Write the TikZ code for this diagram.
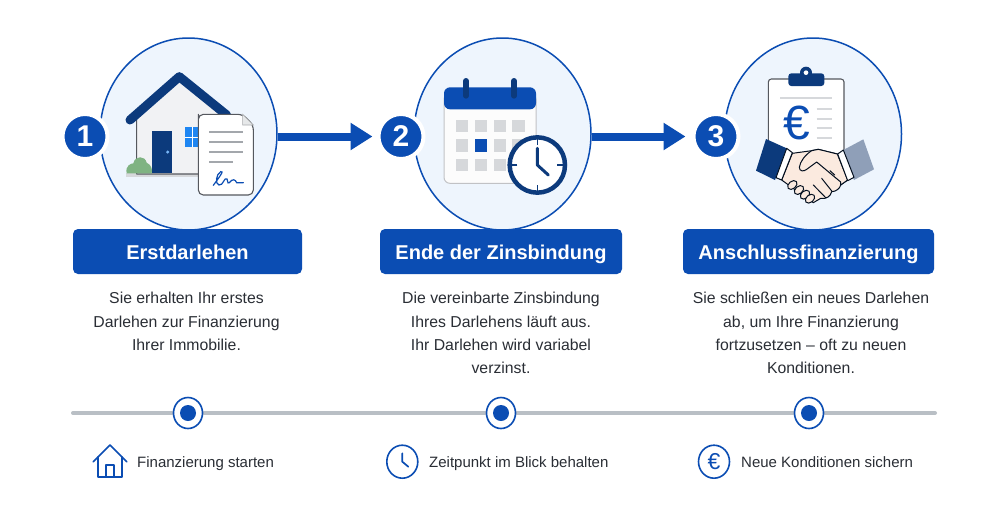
\documentclass[tikz,border=0pt]{standalone}
\usepackage{fontspec}
\setmainfont{Liberation Sans}
\usetikzlibrary{arrows.meta,shapes.geometric}
\definecolor{mainblue}{HTML}{0B4DB3}
\definecolor{darkblue}{HTML}{0C3A7C}
\definecolor{paleblue}{HTML}{EEF5FD}
\definecolor{softgray}{HTML}{D6D8DB}
\definecolor{midgray}{HTML}{A3A7AC}
\definecolor{edgegray}{HTML}{55585E}
\definecolor{railgray}{HTML}{B9BFC5}
\definecolor{skin}{HTML}{FBEADF}
\definecolor{inktext}{HTML}{2A2E35}
\definecolor{bushgreen}{HTML}{7FB382}
\definecolor{windowblue}{HTML}{1E86F2}
\definecolor{cuffgray}{HTML}{8F9FB8}
\definecolor{wallgray}{HTML}{F1F2F4}
\tikzset{
  stepcircle/.style={ellipse,draw=mainblue,fill=paleblue,line width=1.5pt,inner sep=0pt,minimum width=177pt,minimum height=192pt},
  badge/.style={circle,fill=mainblue,draw=white,line width=4pt,inner sep=0pt,minimum size=45pt,text=white,font=\fontsize{30}{30}\selectfont\bfseries},
  titlebox/.style={rectangle,rounded corners=5pt,fill=mainblue,text=white,inner sep=0pt,minimum height=45pt,text height=16pt,text depth=1pt,font=\fontsize{20}{24}\selectfont\bfseries},
  bodytext/.style={align=center,anchor=north,text=inktext,inner sep=0pt,font=\fontsize{15.8}{23.4}\selectfont},
  flowarrow/.style={draw=mainblue,line width=8pt,-{Triangle[length=22pt,width=26pt]},shorten >=4pt},
  rail/.style={draw=railgray,line width=4pt,line cap=round},
  railring/.style={ellipse,draw=mainblue,fill=white,line width=1.6pt,inner sep=0pt,minimum width=29pt,minimum height=31pt},
  raildot/.style={circle,fill=mainblue,inner sep=0pt,minimum size=16pt},
  minilabel/.style={anchor=base west,text=inktext,inner sep=0pt,font=\fontsize{15}{17}\selectfont},
  miniicon/.style={ellipse,draw=mainblue,line width=1.6pt,inner sep=0pt,minimum width=31pt,minimum height=33pt},
  miniline/.style={draw=mainblue,line width=1.7pt,line join=round,line cap=round},
  outline/.style={draw=edgegray,line width=1.1pt,line join=round},
  textline/.style={draw=midgray,line width=2pt},
  handline/.style={draw=black!75!darkblue,line width=1pt,line join=round,fill=skin},
}
\begin{document}
\begin{tikzpicture}[x=1pt,y=-1pt]
\path[use as bounding box,fill=white] (0,0) rectangle (1000,520);

% big circles
\node[stepcircle] (circleA) at (188.5,134) {};
\node[stepcircle] (circleB) at (502.5,134) {};
\node[stepcircle] (circleC) at (813,134) {};

% number badges
\node[badge] (badgeA) at (85,136.5) {1};
\node[badge] (badgeB) at (401,136.5) {2};
\node[badge] (badgeC) at (716,136.5) {3};

% arrows
\draw[flowarrow] (circleA.east |- badgeB.west) -- (badgeB.west);
\draw[flowarrow,shorten >=6pt] (circleB.east |- badgeC.west) -- (badgeC.west);

% house with contract
\begin{scope}[shift={(50,30)},x=1/3*1pt,y=-1/3*1pt]
  \fill[softgray] (228,430) rectangle (445,441);
  \draw[outline,fill=wallgray] (260,432) -- (260,250) -- (388,150) -- (516,250) -- (516,432) -- cycle;
  \draw[darkblue,line width=9pt,line cap=round,line join=round] (240,270) -- (388,140) -- (530,255);
  \fill[darkblue] (305,302) rectangle (365,428);
  \fill[windowblue!60!white] (353,366) circle (5);
  \fill[windowblue] (405,292) rectangle (450,352);
  \draw[white,line width=1.4pt] (427,292) -- (427,352) (405,322) -- (450,322);
  \fill[bushgreen] (230,430) .. controls (225,405) and (245,400) .. (250,400) .. controls (255,376) and (285,376) .. (290,398) .. controls (305,405) and (308,420) .. (305,430) -- cycle;
  \draw[outline,fill=white,rounded corners=5pt] (445,268) -- (445,495) -- (610,495) -- (610,285) -- (578,253) -- (445,253) -- cycle;
  \draw[edgegray!50,fill=softgray!60,line width=.6pt] (578,253) -- (578,285) -- (610,285) -- cycle;
  \foreach \y in {307,337,367} \draw[textline] (478,\y) -- (578,\y);
  \draw[textline] (478,396) -- (548,396);
  \draw[mainblue,line width=1.2pt,line cap=round] (490,466) .. controls (505,445) and (525,420) .. (512,425) .. controls (498,432) and (495,462) .. (507,465) .. controls (520,468) and (522,440) .. (531,447) .. controls (536,452) and (530,462) .. (538,458) .. controls (548,445) and (556,448) .. (560,458) -- (580,458);
\end{scope}

% calendar with clock
\begin{scope}[shift={(370,30)},x=1/3*1pt,y=-1/3*1pt]
  \draw[softgray!90!black,fill=white!92!softgray,line width=1pt,rounded corners=6pt] (222,190) -- (222,460) -- (498,460) -- (498,190) -- cycle;
  \fill[mainblue,rounded corners=6pt] (222,238) -- (222,172) -- (498,172) -- (498,238) -- cycle;
  \draw[darkblue,line width=6pt,line cap=round] (288,153) -- (288,197) (432,153) -- (432,197);
  \foreach \x in {258,315,372,427} \foreach \y in {270,328,387}
    \fill[softgray] (\x,\y) rectangle ++(37,37);
  \fill[mainblue] (315,328) rectangle ++(37,37);
  \draw[darkblue,fill=white,line width=4.5pt] (502,405) circle (83);
  \foreach \a in {0,90,180,270} \draw[darkblue,line width=1.3pt] (502,405) ++(\a:60) -- ++(\a:17);
  \draw[darkblue,line width=3pt,line cap=round,line join=round] (502,355) -- (502,405) -- (535,435);
\end{scope}

% clipboard
\begin{scope}[shift={(680,30)},x=1/3*1pt,y=-1/3*1pt]
  \draw[outline,fill=white,rounded corners=3pt] (265,400) -- (265,147) -- (492,147) -- (492,400);
  \fill[darkblue] (378,128) circle (18);
  \fill[darkblue,rounded corners=3pt] (325,130) rectangle (433,168);
  \fill[white] (378,128) circle (7);
  \draw[softgray,line width=2.5pt] (300,204) -- (455,204);
  \foreach \y in {238,266,295,323} \draw[softgray,line width=2pt] (410,\y) -- (455,\y);
  \node[text=mainblue,inner sep=0pt,font=\fontsize{48}{48}\selectfont] (euroBig) at (352,280) {€};
\end{scope}

% handshake
\begin{scope}[shift={(750,130)},x=1/3*1pt,y=-1/3*1pt]
  \draw[handline] (127,70) -- (185,62) -- (205,58) -- (262,72) -- (293,150) -- (272,165) .. controls (270,175) and (258,185) .. (245,185) .. controls (242,198) and (230,208) .. (212,205) -- (190,218) -- (150,190) -- (95,150) -- cycle;
  \foreach \x/\y in {127/165,147/180,165/194,180/206}
    \draw[handline,rotate around={40:(\x,\y)}] (\x,\y) ellipse (16 and 11);
  \draw[handline] (205,58) -- (185,62) .. controls (165,75) and (150,95) .. (148,112) .. controls (148,125) and (162,125) .. (170,118) -- (200,96) -- (272,156) -- (272,165) -- (293,150) -- (262,72) -- cycle;
  \draw[handline,fill=none,line cap=round] (215,145) -- (246,184) (190,165) -- (228,204) (240,122) -- (254,135);
  \fill[darkblue] (48,27) -- (110,55) -- (75,150) -- (18,122) -- cycle;
  \draw[handline,fill=white] (110,55) -- (127,68) -- (95,150) -- (78,143) -- cycle;
  \fill[cuffgray] (280,60) -- (340,28) -- (372,118) -- (312,150) -- cycle;
  \draw[handline,fill=white] (263,72) -- (280,60) -- (312,142) -- (293,152) -- cycle;
\end{scope}

% titles
\node[titlebox,minimum width=229pt] (titleA) at (187.5,251.5) {Erstdarlehen};
\node[titlebox,minimum width=242pt] (titleB) at (501,251.5) {Ende der Zinsbindung};
\node[titlebox,minimum width=251pt] (titleC) at (808.5,251.5) {Anschlussfinanzierung};

% descriptions
\node[bodytext] (textA) at (186.5,292) {Sie erhalten Ihr erstes\\Darlehen zur Finanzierung\\Ihrer Immobilie.};
\node[bodytext] (textB) at (501,292) {Die vereinbarte Zinsbindung\\Ihres Darlehens läuft aus.\\Ihr Darlehen wird variabel\\verzinst.};
\node[bodytext] (textC) at (811,292) {Sie schließen ein neues Darlehen\\ab, um Ihre Finanzierung\\fortzusetzen – oft zu neuen\\Konditionen.};

% timeline
\coordinate (railL) at (73,413);
\coordinate (railR) at (935,413);
\draw[rail] (railL) -- (railR);
\foreach \name/\x in {A/188,B/501,C/809}{
  \node[railring] (ring\name) at (\x,413) {};
  \node[raildot] (dot\name) at (\x,413) {};
}

% small icons
\draw[miniline] (93.3,461.7) -- (110,445) -- (126.7,461.7);
\draw[miniline] (98.3,457) -- (98.3,476.7) -- (121.7,476.7) -- (121.7,457);
\draw[miniline] (106,476.7) -- (106,465) -- (114,465) -- (114,476.7);
\node[minilabel] (labelA) at (137,467) {Finanzierung starten};

\node[miniicon] (clockMini) at (402.3,461.7) {};
\draw[miniline] (402.3,453.3) -- (402.3,461.7) -- (408.3,466.7);
\node[minilabel] (labelB) at (429,467) {Zeitpunkt im Blick behalten};

\node[miniicon,text=mainblue,font=\fontsize{23}{23}\selectfont] (euroMini) at (714,461.7) {€};
\node[minilabel] (labelC) at (741,467) {Neue Konditionen sichern};
\end{tikzpicture}
\end{document}
